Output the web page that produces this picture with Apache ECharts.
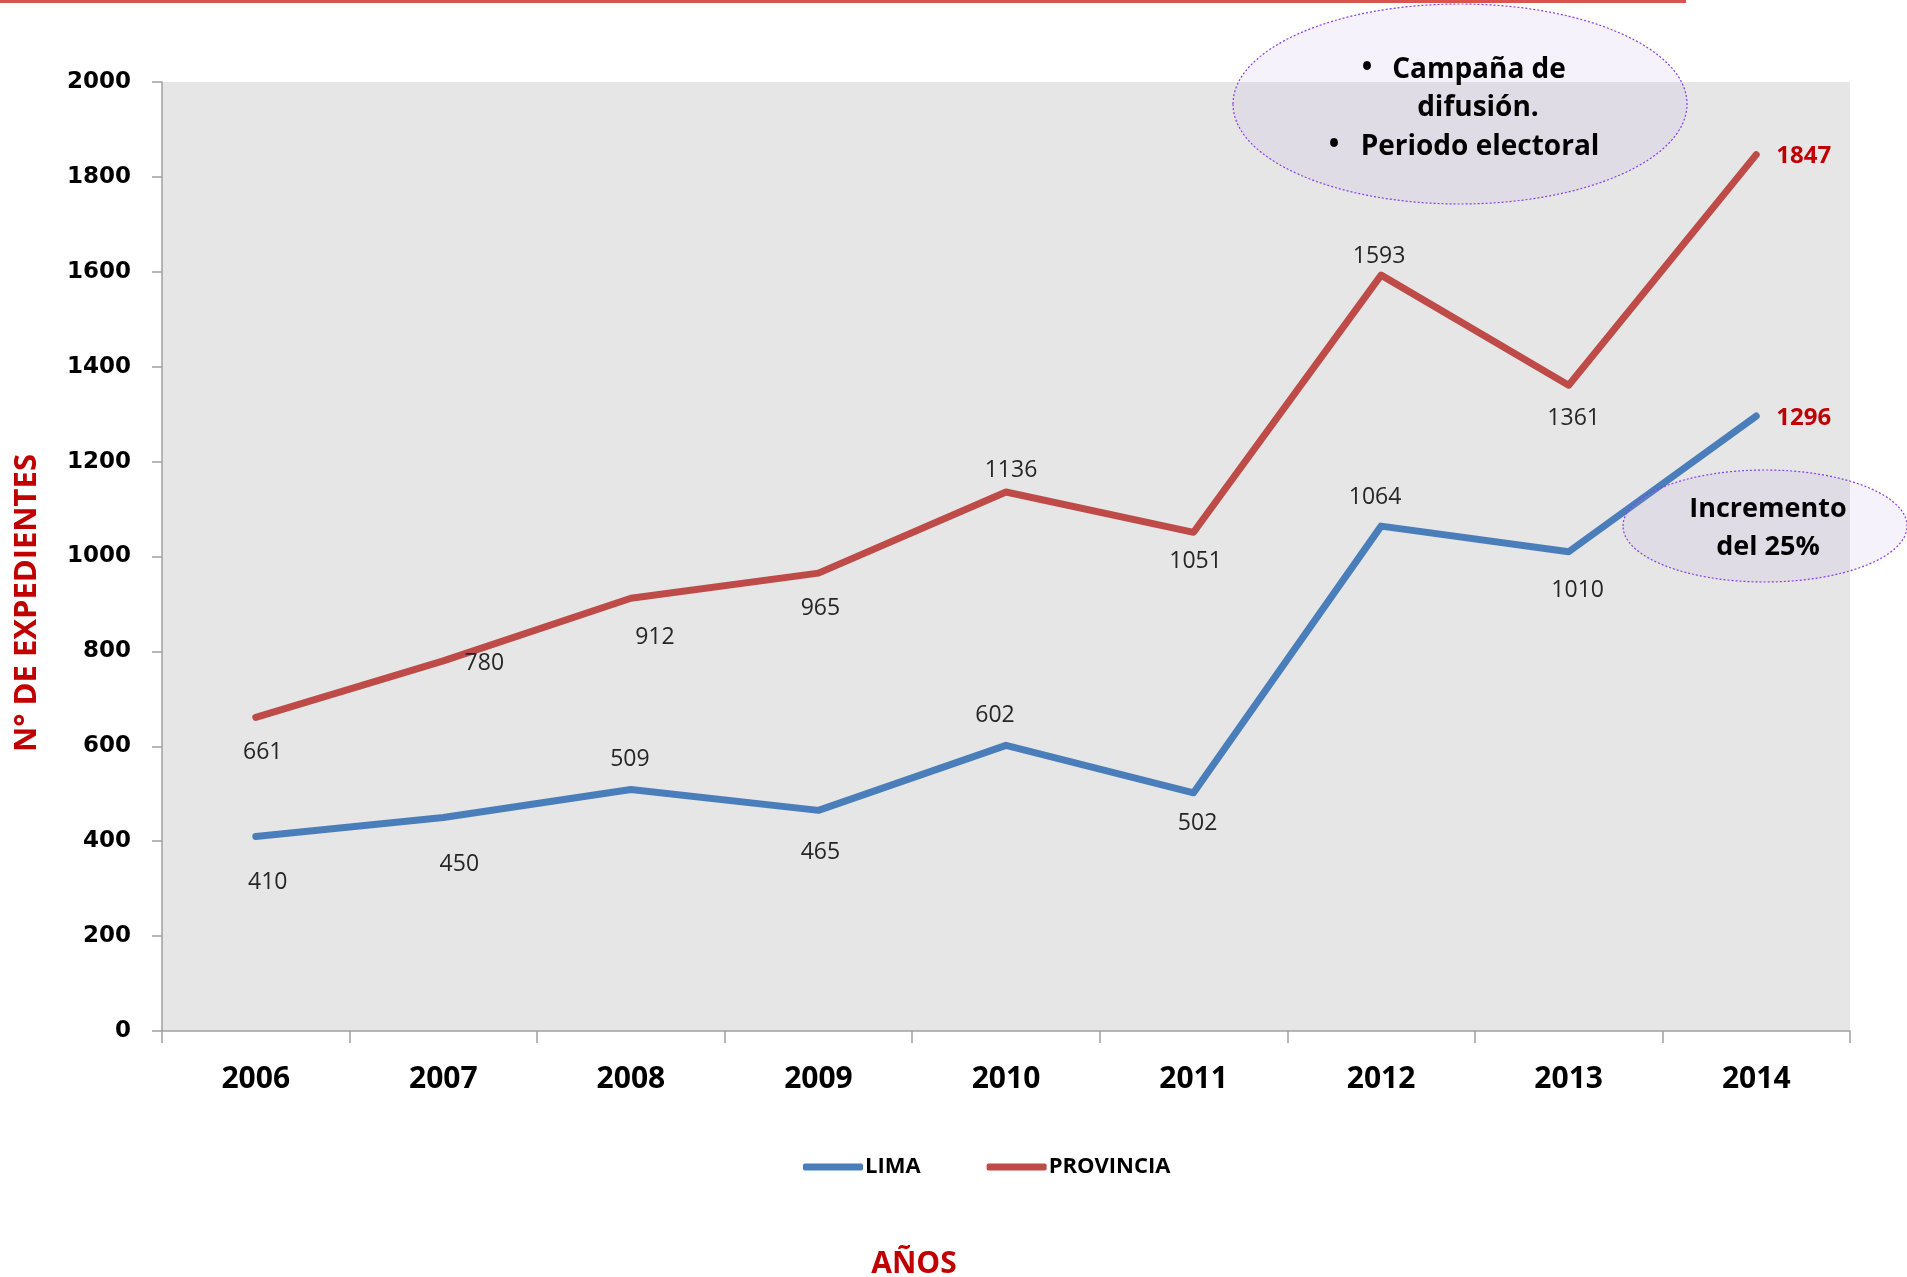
<!DOCTYPE html>
<html><head><meta charset="utf-8">
<script src="https://cdn.jsdelivr.net/npm/echarts@6/dist/echarts.min.js"></script>
<style>html,body{margin:0;padding:0;background:#fff}#c{width:1907px;height:1277px}</style>
</head><body><div id="c"></div>
<script>
const years = ['2006','2007','2008','2009','2010','2011','2012','2013','2014'];
const lima = [410, 450, 509, 465, 602, 502, 1064, 1010, 1296];
const provincia = [661, 780, 912, 965, 1136, 1051, 1593, 1361, 1847];
const yMin = 0, yMax = 2000, yStep = 200;

// label placement (style only)
const limaLabelOffsets = [[12,46],[16,47],[-1,-30],[2,42],[-11,-30],[4,31],[-6,-29],[9,39],null];
const provLabelOffsets = [[7,35],[41,3],[24,39],[2,35],[5,-22],[2,29],[-2,-19],[5,33],null];

const F = '"Open Sans", "Noto Sans", sans-serif';

function items(vals, offs){
  return vals.map((v,i)=>{
    const o = offs[i];
    if (o) return {value:v, label:{offset:o}};
    return {value:v, label:{position:'right', distance:19, offset:[0,2], fontWeight:'bold', color:'#c00000', fontSize:24}};
  });
}

const chart = echarts.init(document.getElementById('c'));
const baseLabel = {show:true, position:'inside', fontFamily:F, fontSize:23, color:'#262626'};
chart.setOption({
  backgroundColor:'#ffffff',
  animation:false,
  grid:{left:162, right:57, top:82, bottom:246, show:true, backgroundColor:'#e6e6e6', borderWidth:0},
  legend:{
    data:['LIMA','PROVINCIA'], left:798, top:1151, itemWidth:60, itemHeight:7, icon:'roundRect', itemGap:66,
    textStyle:{fontFamily:F, fontSize:22, fontWeight:'bold', color:'#000', padding:[0,0,0,-3]}
  },
  xAxis:{
    type:'category', data:years, boundaryGap:true,
    axisLine:{lineStyle:{color:'#a0a0a0', width:1.5}},
    axisTick:{show:true, length:12, lineStyle:{color:'#a0a0a0', width:1.5}},
    axisLabel:{margin:33, fontFamily:F, fontSize:30, fontWeight:'bold', color:'#000'},
    splitLine:{show:false}
  },
  yAxis:{
    type:'value', min:yMin, max:yMax, interval:yStep,
    axisLine:{show:true, lineStyle:{color:'#a0a0a0', width:1.5}},
    axisTick:{show:true, length:10, lineStyle:{color:'#a0a0a0', width:1.5}},
    axisLabel:{margin:31, formatter:(v)=>String(v), fontFamily:'"DejaVu Sans", sans-serif', fontSize:23, fontWeight:'bold', color:'#000'},
    splitLine:{show:false}
  },
  series:[
    {name:'LIMA', type:'line', data:items(lima, limaLabelOffsets), symbol:'circle', symbolSize:2, showSymbol:true,
     itemStyle:{color:'#4a7ebb'}, lineStyle:{color:'#4a7ebb', width:7, cap:'round', join:'round'}, label:baseLabel, z:3},
    {name:'PROVINCIA', type:'line', data:items(provincia, provLabelOffsets), symbol:'circle', symbolSize:2, showSymbol:true,
     itemStyle:{color:'#be4b48'}, lineStyle:{color:'#be4b48', width:7, cap:'round', join:'round'}, label:baseLabel, z:3}
  ],
  graphic:[
    {type:'rect', shape:{x:0,y:0,width:1686,height:3}, style:{fill:'#d9534f'}, z:100},
    {type:'ellipse', shape:{cx:1460, cy:104, rx:227, ry:100}, style:{fill:'rgba(172,147,230,0.12)', stroke:'#8a3ce6', lineWidth:1.2, lineDash:[2,2]}, z:100},
    {type:'ellipse', shape:{cx:1765, cy:526, rx:142, ry:56}, style:{fill:'rgba(172,147,230,0.12)', stroke:'#8a3ce6', lineWidth:1.2, lineDash:[2,2]}, z:100},
    {type:'text', x:1367, y:68, style:{text:'•', font:'bold 28px '+F, fill:'#000', textAlign:'center', textVerticalAlign:'middle'}, z:101},
    {type:'text', x:1479, y:70, style:{text:'Campaña de', font:'bold 28px '+F, fill:'#000', textAlign:'center', textVerticalAlign:'middle'}, z:101},
    {type:'text', x:1478, y:108, style:{text:'difusión.', font:'bold 28px '+F, fill:'#000', textAlign:'center', textVerticalAlign:'middle'}, z:101},
    {type:'text', x:1334, y:145, style:{text:'•', font:'bold 28px '+F, fill:'#000', textAlign:'center', textVerticalAlign:'middle'}, z:101},
    {type:'text', x:1480, y:147, style:{text:'Periodo electoral', font:'bold 28px '+F, fill:'#000', textAlign:'center', textVerticalAlign:'middle'}, z:101},
    {type:'text', x:1768, y:509, style:{text:'Incremento', font:'bold 27px '+F, fill:'#000', textAlign:'center', textVerticalAlign:'middle'}, z:101},
    {type:'text', x:1768, y:547, style:{text:'del 25%', font:'bold 27px '+F, fill:'#000', textAlign:'center', textVerticalAlign:'middle'}, z:101},
    {type:'text', x:27, y:603, rotation:Math.PI/2, style:{text:'N° DE EXPEDIENTES', font:'bold 31px '+F, fill:'#c00000', textAlign:'center', textVerticalAlign:'middle'}, z:101},
    {type:'text', x:914, y:1264, style:{text:'AÑOS', font:'bold 30px '+F, fill:'#c00000', textAlign:'center', textVerticalAlign:'middle'}, z:101}
  ]
});
</script></body></html>
